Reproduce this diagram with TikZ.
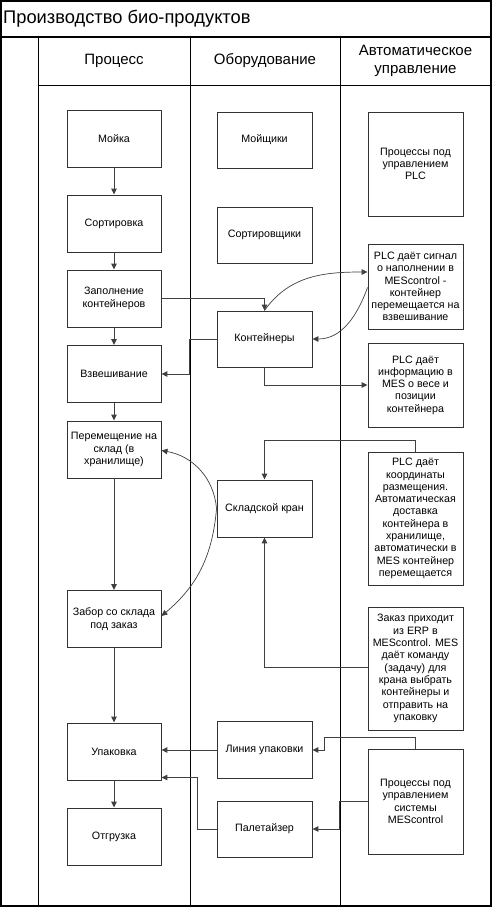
\documentclass[tikz,border=0pt]{standalone}
\usepackage{fontspec}
\setmainfont{Liberation Sans}
\usetikzlibrary{arrows.meta,calc}
\begin{document}
\begin{tikzpicture}[x=1pt,y=1pt,
  boxa/.style={draw=black!80,line width=0.9pt,minimum width=94pt,inner sep=1pt,align=center,font=\fontsize{10.7}{12.3}\selectfont},
  conn/.style={draw=black!75,line width=1pt},
  arr/.style={conn,-{Triangle[length=6pt,width=5.5pt]}},
  lane/.style={draw=black,line width=0.9pt},
  hdr/.style={font=\fontsize{15}{18}\selectfont,align=center}]
\useasboundingbox (0,0) rectangle (492,-907);
\fill[white] (0,0) rectangle (492,-907);
% frame
\draw[line width=1.4pt] (1,-1) rectangle (491,-906);
\draw[line width=1.8pt] (1,-37) -- (491,-37);
\draw[lane] (38,-37) -- (38,-906);
\draw[lane] (190,-37) -- (190,-906);
\draw[lane] (340,-37) -- (340,-906);
\draw[lane] (38,-85) -- (491,-85);
\node[anchor=west,font=\fontsize{18.3}{20}\selectfont,inner sep=0] (title) at (3,-19) {Производство био-продуктов};
\node[hdr] (h1) at (114,-61) {Процесс};
\node[hdr] (h2) at (265,-61) {Оборудование};
\node[hdr] (h3) at (415.5,-61) {Автоматическое\\управление};
% process
\node[boxa,minimum height=57pt] (moy) at (114,-138.5) {Мойка};
\node[boxa,minimum height=57pt] (sort) at (114,-223.5) {Сортировка};
\node[boxa,minimum height=57pt] (fill) at (114,-298.5) {Заполнение\\контейнеров};
\node[boxa,minimum height=57pt] (vzv) at (114,-374) {Взвешивание};
\node[boxa,minimum height=57pt] (per) at (114,-449.5) {Перемещение на\\склад (в\\хранилище)};
\node[boxa,minimum height=57pt] (zab) at (114,-619) {Забор со склада\\под заказ};
\node[boxa,minimum height=57pt] (upk) at (114,-751.5) {Упаковка};
\node[boxa,minimum height=57pt] (otg) at (114,-836.5) {Отгрузка};
% equipment
\node[boxa,minimum width=95pt,minimum height=56pt] (moys) at (264.5,-140) {Мойщики};
\node[boxa,minimum width=95pt,minimum height=56pt] (sorts) at (264.5,-235) {Сортировщики};
\node[boxa,minimum width=95pt,minimum height=56pt] (kont) at (264.5,-339) {Контейнеры};
\node[boxa,minimum width=95pt,minimum height=57pt] (kran) at (264.5,-508.5) {Складской кран};
\node[boxa,minimum width=95pt,minimum height=57pt] (lin) at (264.5,-750) {Линия упаковки};
\node[boxa,minimum width=95pt,minimum height=56pt] (pal) at (264.5,-829) {Палетайзер};
% automation
\node[boxa,minimum width=95pt,minimum height=104pt] (plca) at (415.5,-164) {Процессы под\\управлением\\PLC};
\node[boxa,minimum width=95pt,minimum height=85pt] (plcb) at (415.5,-286.5) {PLC даёт сигнал\\о наполнении в\\MEScontrol -\\контейнер\\перемещается на\\взвешивание};
\node[boxa,minimum width=95pt,minimum height=84pt] (plcc) at (415.5,-385) {PLC даёт\\информацию в\\MES о весе и\\позиции\\контейнера};
\node[boxa,minimum width=95pt,minimum height=133pt] (plcd) at (415.5,-518.5) {PLC даёт\\координаты\\размещения.\\Автоматическая\\доставка\\контейнера в\\хранилище,\\автоматически в\\MES контейнер\\перемещается};
\node[boxa,minimum width=95pt,minimum height=123pt] (ord) at (415.5,-668.5) {Заказ приходит\\из ERP в\\MEScontrol. MES\\даёт команду\\(задачу) для\\крана выбрать\\контейнеры и\\отправить на\\упаковку};
\node[boxa,minimum width=95pt,minimum height=105pt] (mes) at (415.5,-801.5) {Процессы под\\управлением\\системы\\MEScontrol};
% process flow
\draw[arr] (moy) -- (sort);
\draw[arr] (sort) -- (fill);
\draw[arr] (fill) -- (vzv);
\draw[arr] (vzv) -- (per);
\draw[arr] (per) -- (zab);
\draw[arr] (zab) -- (upk);
\draw[arr] (upk) -- (otg);
% connectors
\draw[arr] (fill.east) -| (kont.north);
\draw[arr] (kont.west) -- ++(-27,0) |- (vzv.east);
\draw[arr,line width=0.7pt] (kont.north) to[out=55,in=180] ([yshift=14.5pt]plcb.west);
\draw[arr,line width=0.7pt] ([yshift=-1pt]plcb.west) to[out=250,in=0] (kont.east);
\draw[arr] (kont.south) |- (plcc.west);
\draw[arr] (plcd.north) -- ++(0,11) -| (kran.north);
\draw[arr] ([yshift=1.5pt]ord.west) -| (kran.south);
\draw[arr,line width=0.7pt] (kran.west) to[out=95,in=-10] ([yshift=-1pt]per.east);
\draw[arr,line width=0.7pt] (kran.west) to[out=-95,in=40] ([yshift=3pt]zab.east);
\draw[arr] (mes.north) -- ++(0,11) -| ([xshift=12pt]lin.east) -- (lin.east);
\draw[arr] (mes.west) -- ++(-28,0) |- (pal.east);
\draw[arr] (lin.west) -- (lin.west -| upk.east);
\draw[arr] (pal.west) -- ++(-19,0) |- ([yshift=-26pt]upk.east);
\end{tikzpicture}
\end{document}
